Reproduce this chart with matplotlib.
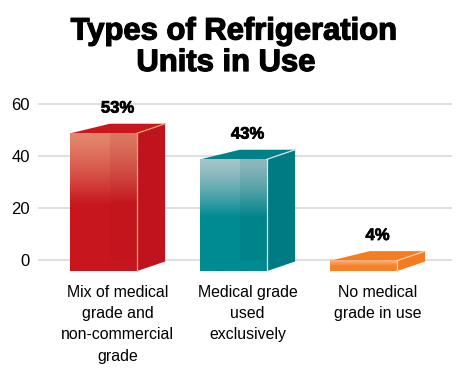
import numpy as np
import matplotlib
matplotlib.use('Agg')
import matplotlib.pyplot as plt
from matplotlib.patches import Polygon, Rectangle
from matplotlib.colors import to_rgb
import matplotlib.transforms as mtransforms
import matplotlib.patheffects as pe

# ---- data ----
categories = ["Mix of medical\ngrade and\nnon-commercial\ngrade",
              "Medical grade\nused\nexclusively",
              "No medical\ngrade in use"]
values = [53, 43, 4]
value_labels = ["53%", "43%", "4%"]
yticks = [0, 20, 40, 60]
title_lines = ["Types of Refrigeration", "Units in Use"]

base_colors = ['#c8161e', '#008a92', '#f5822a']
light_colors = ['#e3866c', '#a5c4c8', '#f9b07c']
side_colors = ['#bf141d', '#007b83', '#f47b22']
top_colors = ['#c8171f', '#00818a', '#f47d24']
inner_colors = ['#a01018', '#005a60', '#c05010']
edge_colors = ['#f2a46a', '#d6e6e4', '#fbd0a8']

FONT = ['Liberation Sans', 'DejaVu Sans']
W, H = 476, 370
fig = plt.figure(figsize=(W / 100, H / 100), dpi=100)

ymin, ymax = -6, 62
ppu = 2.6          # pixels per y unit
y0px = 260.3       # pixel row of value 0 (from top)
top_px = y0px - ymax * ppu
bot_px = y0px - ymin * ppu
ax = fig.add_axes([38 / W, 1 - bot_px / H, 414 / W, (bot_px - top_px) / H])
xpu = 130.0        # pixels per x unit
xmin = -0.502
ax.set_xlim(xmin, xmin + 414 / xpu)
ax.set_ylim(ymin, ymax)
for s in ax.spines.values():
    s.set_visible(False)
ax.set_yticks(yticks)
ax.set_yticklabels([str(t) for t in yticks], fontsize=12, family=FONT)
ax.tick_params(axis='y', length=0, pad=5.8)
ax.set_xticks([])
ax.yaxis.grid(True, color='#d6d6d6', lw=1.1)
ax.set_axisbelow(True)

base = -4.2
w = 66.7 / xpu
dxL = 40 / xpu
dxR = 28.5 / xpu
dy = 9.7 / ppu
dy_in = 11.5 / ppu

def gradient(c_light, c_base, n=200):
    cl = np.array(to_rgb(c_light)); cb = np.array(to_rgb(c_base))
    f = np.linspace(0, 1, n)  # 0 top, 1 bottom
    t = np.clip(f / 0.52, 0, 1)
    t = t ** 1.3
    col = cl[None, :] * (1 - t[:, None]) + cb[None, :] * t[:, None]
    return col[:, None, :]

lab_stroke = [pe.withStroke(linewidth=0.5, foreground='black')]
for i, v in enumerate(values):
    x0 = i - w / 2
    x1 = i + w / 2
    b = base
    t = base + v
    # top face
    ax.add_patch(Polygon([(x0, t), (x0 + dxL, t + dy), (x1 + dxR, t + dy), (x1, t)],
                         closed=True, fc=top_colors[i], ec='none', zorder=3))
    # side face
    ax.add_patch(Polygon([(x1, b), (x1 + dxR, b + dy), (x1 + dxR, t + dy), (x1, t)],
                         closed=True, fc=side_colors[i], ec='none', zorder=3))
    # front face gradient
    ax.imshow(gradient(light_colors[i], base_colors[i]), extent=(x0, x1, b, t),
              aspect='auto', interpolation='bilinear', zorder=4)
    # inner back face visible through translucent front
    if t - (b + dy_in) > 0:
        ax.add_patch(Rectangle((x0 + dxL, b + dy_in), x1 - (x0 + dxL), t - (b + dy_in),
                               fc=inner_colors[i], alpha=0.12, ec='none', zorder=5))
    # light edges
    ax.plot([x1, x1], [b, t], color=edge_colors[i], lw=0.9, zorder=6)
    ax.plot([x1, x1 + dxR], [t, t + dy], color=edge_colors[i], lw=0.9, zorder=6)
    # value label
    cx = (x0 + x1 + dxR) / 2
    ax.text(cx, t + dy + 6.0, value_labels[i], ha='center', va='center',
            fontsize=12, fontweight='bold', family=FONT, zorder=7, clip_on=False,
            path_effects=lab_stroke)

ax.set_xlim(xmin, xmin + 414 / xpu)
ax.set_ylim(ymin, ymax)

# category labels, line by line
trans = mtransforms.blended_transform_factory(ax.transData, fig.transFigure)
line_base = [296.7, 318.0, 339.3, 360.5]
for i, lab in enumerate(categories):
    cx = (i - w / 2 + i + w / 2 + dxR) / 2
    for j, line in enumerate(lab.split('\n')):
        ax.text(cx, 1 - line_base[j] / H, line, transform=trans, ha='center',
                va='baseline', fontsize=11.4, family=FONT, clip_on=False)

# title
stroke = [pe.withStroke(linewidth=0.9, foreground='black')]
fig.text(234.2 / W, 1 - 39.5 / H, title_lines[0], ha='center', va='baseline',
         fontsize=22.3, fontweight='bold', family=FONT, path_effects=stroke)
fig.text(226 / W, 1 - 71 / H, title_lines[1], ha='center', va='baseline',
         fontsize=22.3, fontweight='bold', family=FONT, path_effects=stroke)

fig.savefig('out.png', dpi=100)
